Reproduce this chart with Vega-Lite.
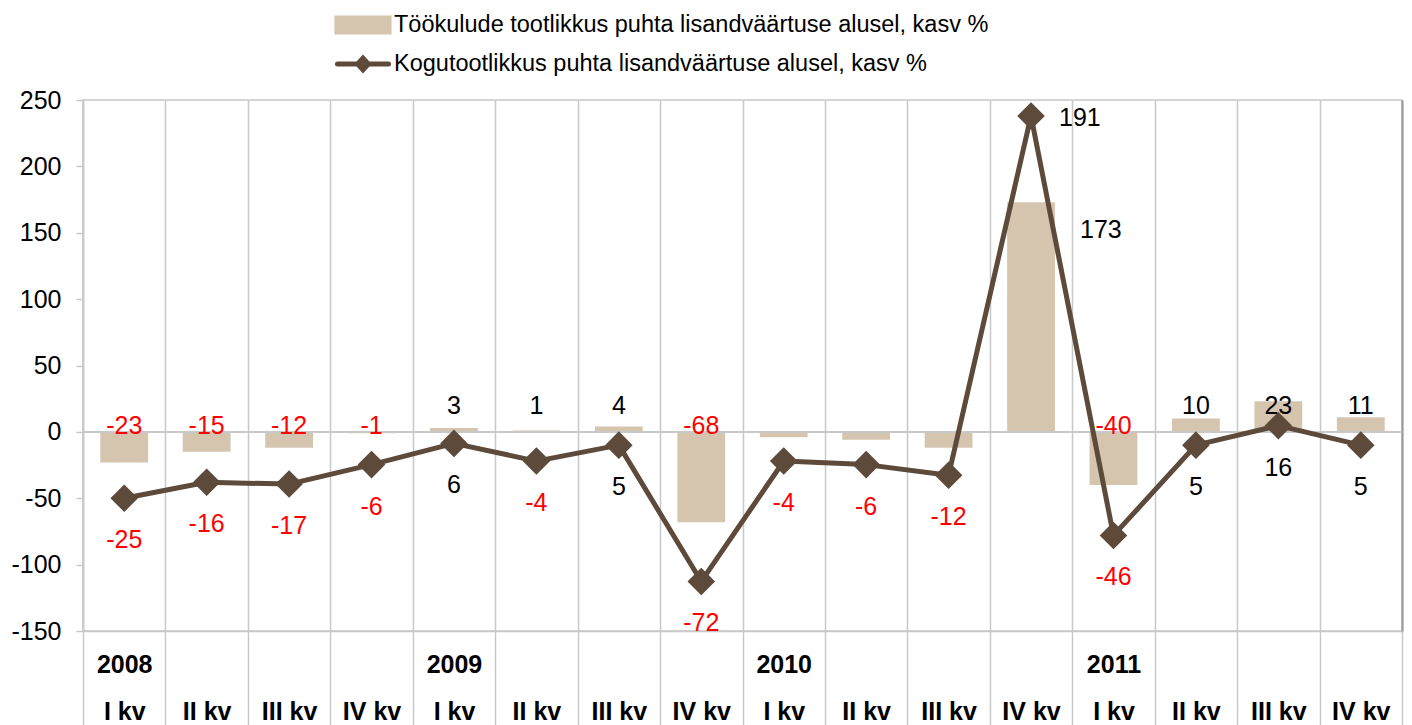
{
  "$schema": "https://vega.github.io/schema/vega-lite/v6.json",
  "width": 1319,
  "height": 531,
  "autosize": {"type": "none"},
  "padding": {"left": 83, "top": 100, "right": 10, "bottom": 94},
  "background": "#ffffff",
  "config": {
    "font": "Liberation Sans",
    "view": {"stroke": "#C8C8C8", "strokeWidth": 1.5},
    "text": {"font": "Liberation Sans", "fontSize": 25}
  },
  "data": {
    "values": [
      {"cat": "2008 I kv", "bar": -23, "line": -25, "bl": "-23"},
      {"cat": "2008 II kv", "bar": -15, "line": -16, "bl": "-15"},
      {"cat": "2008 III kv", "bar": -12, "line": -17, "bl": "-12"},
      {"cat": "2008 IV kv", "bar": -1, "line": -6, "bl": "-1"},
      {"cat": "2009 I kv", "bar": 3, "line": 6, "bl": "3"},
      {"cat": "2009 II kv", "bar": 1, "line": -4, "bl": "1"},
      {"cat": "2009 III kv", "bar": 4, "line": 5, "bl": "4"},
      {"cat": "2009 IV kv", "bar": -68, "line": -72, "bl": "-68"},
      {"cat": "2010 I kv", "bar": -4, "line": -4, "bl": ""},
      {"cat": "2010 II kv", "bar": -6, "line": -6, "bl": ""},
      {"cat": "2010 III kv", "bar": -12, "line": -12, "bl": ""},
      {"cat": "2010 IV kv", "bar": 173, "line": 191, "bl": "173"},
      {"cat": "2011 I kv", "bar": -40, "line": -46, "bl": "-40"},
      {"cat": "2011 II kv", "bar": 10, "line": 5, "bl": "10"},
      {"cat": "2011 III kv", "bar": 23, "line": 16, "bl": "23"},
      {"cat": "2011 IV kv", "bar": 11, "line": 5, "bl": "11"}
    ]
  },
  "resolve": {"scale": {"y": "independent"}},
  "layer": [
    {
      "mark": {"type": "bar", "width": {"band": 0.58}},
      "encoding": {
        "x": {
          "field": "cat", "type": "nominal", "sort": null, "title": null,
          "scale": {"paddingInner": 0, "paddingOuter": 0},
          "axis": {
            "orient": "bottom",
            "tickBand": "extent",
            "grid": true, "gridColor": "#C8C8C8", "gridWidth": 1.5,
            "ticks": true, "tickColor": "#C8C8C8", "tickWidth": 1.5, "tickSize": 95,
            "domain": true, "domainColor": "#C8C8C8", "domainWidth": 1.5,
            "labelPadding": -74, "labelFontSize": 25, "labelFontWeight": "bold",
            "labelFont": "Liberation Sans", "labelColor": "#000000",
            "labelLineHeight": 47, "labelAngle": 0, "labelBaseline": "top",
            "labelOverlap": false, "labelBound": false, "labelLimit": 0,
            "labelExpr": "isValid(datum.value) ? [substring(datum.value, 5) == 'I kv' ? substring(datum.value, 0, 4) : '', substring(datum.value, 5)] : ''"
          }
        },
        "y": {
          "field": "bar", "type": "quantitative", "title": null,
          "scale": {"domain": [-150, 250], "nice": false},
          "axis": {
            "orient": "left",
            "values": [-150, -100, -50, 0, 50, 100, 150, 200, 250],
            "grid": false,
            "domain": true, "domainColor": "#C8C8C8", "domainWidth": 1.5,
            "ticks": true, "tickColor": "#C8C8C8", "tickWidth": 1.5, "tickSize": 7,
            "labelPadding": 15, "labelFontSize": 25, "labelFont": "Liberation Sans",
            "labelColor": "#000000", "labelFlush": false, "labelOverlap": false,
            "labelExpr": "'' + datum.value"
          }
        },
        "color": {
          "datum": "Töökulude tootlikkus puhta lisandväärtuse alusel, kasv %",
          "type": "nominal",
          "scale": {
            "domain": ["Töökulude tootlikkus puhta lisandväärtuse alusel, kasv %", "Kogutootlikkus puhta lisandväärtuse alusel, kasv %"],
            "range": ["#D5C5AF", "#5D4A3A"]
          },
          "legend": {
            "orient": "none", "legendX": 259, "legendY": -96,
            "direction": "vertical", "title": null, "padding": 0,
            "symbolSize": 1369, "symbolStrokeWidth": 5,
            "labelFontSize": 23.5, "labelFont": "Liberation Sans", "labelColor": "#000000",
            "labelLimit": 1000, "labelOffset": 10, "rowPadding": 0,
            "encode": {
              "symbols": {
                "update": {
                  "shape": {"signal": "datum.index === 0 ? 'M-1.41,-0.38H1.41V0.38H-1.41Z' : 'M-1.38,0H1.38M0,-0.31L0.29,0L0,0.31L-0.29,0Z'"},
                  "fill": {"signal": "datum.index === 0 ? '#D5C5AF' : '#5D4A3A'"},
                  "stroke": {"signal": "datum.index === 0 ? 'transparent' : '#5D4A3A'"},
                  "strokeWidth": {"value": 5},
                  "strokeCap": {"value": "round"},
                  "opacity": {"value": 1},
                  "fillOpacity": {"value": 1}
                }
              }
            }
          }
        }
      }
    },
    {
      "mark": {"type": "rule", "color": "#C8C8C8", "strokeWidth": 1.5},
      "encoding": {
        "y": {"datum": 0, "type": "quantitative", "scale": {"domain": [-150, 250], "nice": false}, "axis": null}
      }
    },
    {
      "mark": {"type": "line", "strokeWidth": 5, "strokeJoin": "round", "point": {"shape": "diamond", "size": 760, "filled": true, "opacity": 1}},
      "encoding": {
        "x": {"field": "cat", "type": "nominal", "sort": null, "title": null},
        "y": {
          "field": "line", "type": "quantitative", "title": null,
          "scale": {"domain": [-100, 200], "nice": false, "zero": false},
          "axis": {"orient": "right", "labels": false, "ticks": false, "grid": false, "domain": true, "domainColor": "#999999", "domainWidth": 2, "title": null}
        },
        "color": {"datum": "Kogutootlikkus puhta lisandväärtuse alusel, kasv %", "type": "nominal"}
      }
    },
    {
      "mark": {"type": "text", "baseline": "middle", "align": "center", "dy": -26, "fontSize": 25},
      "encoding": {
        "x": {"field": "cat", "type": "nominal", "sort": null, "title": null},
        "y": {"datum": 0, "type": "quantitative", "scale": {"domain": [-150, 250], "nice": false}, "axis": null},
        "text": {"condition": {"test": "datum.bar >= 0 && datum.bar < 150", "field": "bl", "type": "nominal"}, "value": ""},
        "color": {"value": "#000000"}
      }
    },
    {
      "mark": {"type": "text", "baseline": "middle", "align": "center", "dy": -6, "fontSize": 25},
      "encoding": {
        "x": {"field": "cat", "type": "nominal", "sort": null, "title": null},
        "y": {"datum": 0, "type": "quantitative", "scale": {"domain": [-150, 250], "nice": false}, "axis": null},
        "text": {"condition": {"test": "datum.bar < 0", "field": "bl", "type": "nominal"}, "value": ""},
        "color": {"value": "#FF0000"}
      }
    },
    {
      "mark": {"type": "text", "baseline": "middle", "align": "left", "dx": 49, "dy": 28, "fontSize": 25},
      "encoding": {
        "x": {"field": "cat", "type": "nominal", "sort": null, "title": null},
        "y": {"field": "bar", "type": "quantitative", "scale": {"domain": [-150, 250], "nice": false}, "axis": null},
        "text": {"condition": {"test": "datum.bar >= 150", "field": "bl", "type": "nominal"}, "value": ""},
        "color": {"value": "#000000"}
      }
    },
    {
      "mark": {"type": "text", "baseline": "middle", "align": "center", "dy": 42, "fontSize": 25},
      "encoding": {
        "x": {"field": "cat", "type": "nominal", "sort": null, "title": null},
        "y": {"field": "line", "type": "quantitative", "scale": {"domain": [-100, 200], "nice": false, "zero": false}, "axis": null},
        "text": {"condition": {"test": "datum.line < 150", "field": "line", "type": "nominal"}, "value": ""},
        "color": {"condition": {"test": "datum.line < 0", "value": "#FF0000"}, "value": "#000000"}
      }
    },
    {
      "mark": {"type": "text", "baseline": "middle", "align": "left", "dx": 28, "dy": 2, "fontSize": 25},
      "encoding": {
        "x": {"field": "cat", "type": "nominal", "sort": null, "title": null},
        "y": {"field": "line", "type": "quantitative", "scale": {"domain": [-100, 200], "nice": false, "zero": false}, "axis": null},
        "text": {"condition": {"test": "datum.line >= 150", "field": "line", "type": "nominal"}, "value": ""},
        "color": {"value": "#000000"}
      }
    }
  ]
}
